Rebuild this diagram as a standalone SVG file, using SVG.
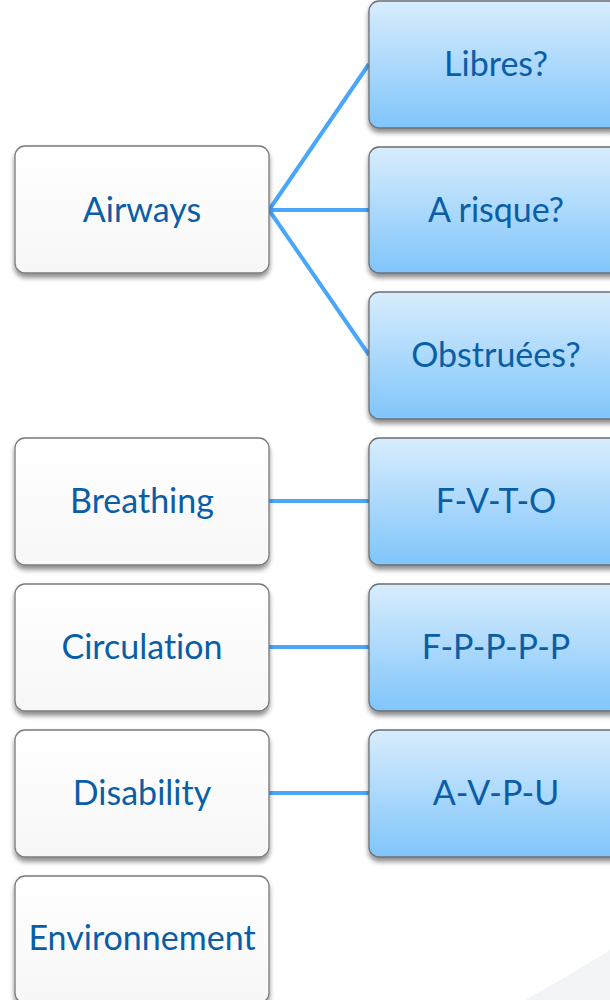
<svg xmlns="http://www.w3.org/2000/svg" width="610" height="1000" viewBox="0 0 610 1000">
<defs>
<linearGradient id="blue" x1="0" y1="0" x2="0" y2="1">
<stop offset="0" stop-color="#d8edfd"/>
<stop offset="1" stop-color="#80c5fb"/>
</linearGradient>
<linearGradient id="white" x1="0" y1="0" x2="0" y2="1">
<stop offset="0" stop-color="#ffffff"/>
<stop offset="1" stop-color="#f7f7f8"/>
</linearGradient>
<filter id="sh" x="-10%" y="-10%" width="120%" height="130%">
<feGaussianBlur in="SourceAlpha" stdDeviation="2.5"/>
<feOffset dx="0" dy="4" result="b"/>
<feComponentTransfer><feFuncA type="linear" slope="0.45"/></feComponentTransfer>
<feMerge><feMergeNode/><feMergeNode in="SourceGraphic"/></feMerge>
</filter>
</defs>
<style>
.l{fill:url(#white);stroke:#7a7a7a;stroke-width:1.3;filter:url(#sh)}
.r{fill:url(#blue);stroke:#6a6f75;stroke-width:1.3;filter:url(#sh)}
.t{font-family:Lato,"Open Sans",sans-serif;font-size:34px;fill:#0a5ea6;text-anchor:middle;font-variant-ligatures:none}
.c{stroke:#4aa6fa;stroke-width:4;fill:none}
</style>
<rect width="610" height="1000" fill="#ffffff"/>
<path d="M525 1000 Q570 975 610 950 L610 1000 Z" fill="#f2f4f8"/>
<g id="connectors">
<line class="c" x1="269" y1="210" x2="369" y2="64"/>
<line class="c" x1="269" y1="210" x2="369" y2="210"/>
<line class="c" x1="269" y1="210" x2="369" y2="355"/>
<line class="c" x1="269" y1="501" x2="369" y2="501"/>
<line class="c" x1="269" y1="647" x2="369" y2="647"/>
<line class="c" x1="269" y1="793" x2="369" y2="793"/>
</g>
<g id="airways"><rect class="l" x="15" y="146" width="254" height="127" rx="10"/><text class="t" x="142" y="222">Airways</text></g>
<g id="breathing"><rect class="l" x="15" y="438" width="254" height="127" rx="10"/><text class="t" x="142" y="513">Breathing</text></g>
<g id="circulation"><rect class="l" x="15" y="584" width="254" height="127" rx="10"/><text class="t" x="142" y="659">Circulation</text></g>
<g id="disability"><rect class="l" x="15" y="730" width="254" height="127" rx="10"/><text class="t" x="142" y="805">Disability</text></g>
<g id="environnement"><rect class="l" x="15" y="876" width="254" height="127" rx="10"/><text class="t" x="142" y="950">Environnement</text></g>
<g id="libres"><rect class="r" x="369" y="1" width="254" height="127" rx="10"/><text class="t" x="496" y="76">Libres?</text></g>
<g id="arisque"><rect class="r" x="369" y="147" width="254" height="126" rx="10"/><text class="t" x="496" y="222">A risque?</text></g>
<g id="obstruees"><rect class="r" x="369" y="292" width="254" height="127" rx="10"/><text class="t" x="496" y="367">Obstruées?</text></g>
<g id="fvto"><rect class="r" x="369" y="438" width="254" height="127" rx="10"/><text class="t" x="496" y="513">F-V-T-O</text></g>
<g id="fpppp"><rect class="r" x="369" y="584" width="254" height="127" rx="10"/><text class="t" x="496" y="659">F-P-P-P-P</text></g>
<g id="avpu"><rect class="r" x="369" y="730" width="254" height="127" rx="10"/><text class="t" x="496" y="805">A-V-P-U</text></g>
</svg>
